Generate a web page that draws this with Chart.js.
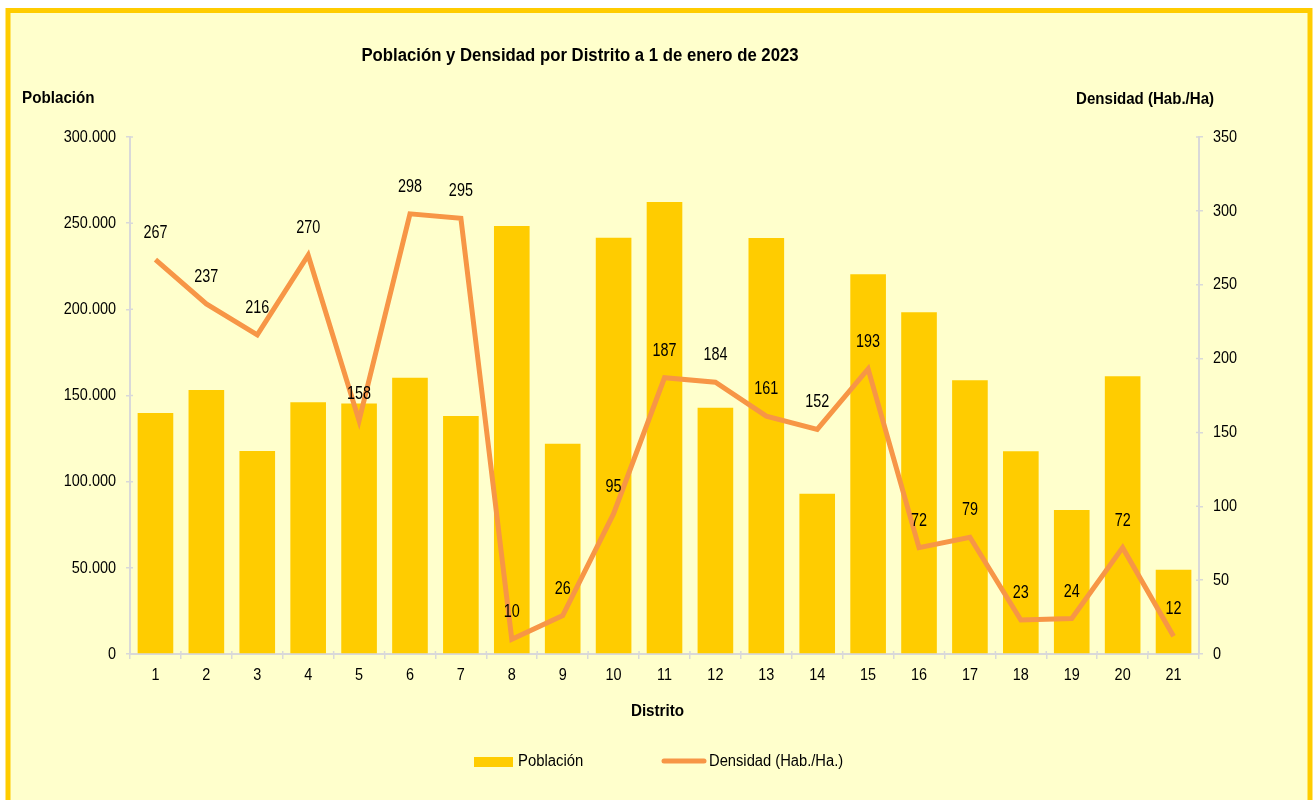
<!DOCTYPE html>
<html>
<head>
<meta charset="utf-8">
<script src="https://cdn.jsdelivr.net/npm/chart.js@4.4.1/dist/chart.umd.min.js"></script>
<style>
  html, body { margin: 0; padding: 0; background: #ffffff; }
  #wrap { width: 1316px; height: 800px; position: relative; }
</style>
</head>
<body>
<div id="wrap"><canvas id="c" width="1316" height="800"></canvas></div>
<script>
const distritos = ['1','2','3','4','5','6','7','8','9','10','11','12','13','14','15','16','17','18','19','20','21'];
const poblacion = [139800, 153200, 117800, 146100, 145300, 160300, 138100, 248400, 122000, 241500, 262300, 142900, 241400, 93000, 220300, 198300, 158900, 117700, 83600, 161200, 48900];
const densidad = [267, 237, 216, 270, 158, 298, 295, 10, 26, 95, 187, 184, 161, 152, 193, 72, 79, 23, 24, 72, 12];
const leftTicks = [0, 50000, 100000, 150000, 200000, 250000, 300000];
const rightTicks = [0, 50, 100, 150, 200, 250, 300, 350];

const FONT = '"Liberation Sans", Arial, sans-serif';
const BAR_COLOR = '#FFCC00';
const LINE_COLOR = '#F79646';
const AXIS_COLOR = '#D9D9D9';

function fmtThousands(v) {
  return String(Math.round(v)).replace(/\B(?=(\d{3})+(?!\d))/g, '.');
}

// draw horizontally condensed text (reference uses a narrow face)
function narrowText(ctx, text, x, y, align, font, sx) {
  ctx.save();
  ctx.font = font;
  ctx.textAlign = align;
  ctx.textBaseline = 'middle';
  ctx.translate(x, y);
  ctx.scale(sx, 1);
  ctx.fillText(text, 0, 0);
  ctx.restore();
}

const decorPlugin = {
  id: 'decor',
  beforeDraw(chart) {
    const ctx = chart.ctx;
    ctx.save();
    ctx.fillStyle = '#FFFFFF';
    ctx.fillRect(0, 0, chart.width, chart.height);
    ctx.fillStyle = '#FFFFCC';
    ctx.fillRect(8, 10, 1302, 800);
    ctx.strokeStyle = BAR_COLOR;
    ctx.lineWidth = 5;
    ctx.strokeRect(8, 10.5, 1302, 810);
    ctx.restore();
  },
  afterDraw(chart) {
    const ctx = chart.ctx;
    const area = chart.chartArea;
    const sx = chart.scales.x, sy = chart.scales.y, sy1 = chart.scales.y1;
    ctx.save();
    // inner half of the tick marks (reference ticks cross the axis)
    ctx.strokeStyle = AXIS_COLOR;
    ctx.lineWidth = 1.5;
    ctx.beginPath();
    sy.ticks.forEach((t, i) => { const p = sy.getPixelForTick(i); ctx.moveTo(area.left, p); ctx.lineTo(area.left + 3, p); });
    sy1.ticks.forEach((t, i) => { const p = sy1.getPixelForTick(i); ctx.moveTo(area.right, p); ctx.lineTo(area.right - 3, p); });
    sx.ticks.forEach((t, i) => {
      const p = sx.getPixelForTick(i) - (sx.getPixelForTick(1) - sx.getPixelForTick(0)) / 2;
      ctx.moveTo(p, area.bottom); ctx.lineTo(p, area.bottom - 3);
    });
    ctx.stroke();

    ctx.fillStyle = '#000000';
    const NUM = '17px ' + FONT;
    const NSX = 0.85;
    // Tick labels (positions from the chart's own scales)
    sx.ticks.forEach((t, i) => {
      narrowText(ctx, String(chart.data.labels[t.value]), sx.getPixelForTick(i), 675, 'center', NUM, NSX);
    });
    sy.ticks.forEach((t, i) => {
      narrowText(ctx, fmtThousands(t.value), area.left - 14, sy.getPixelForTick(i), 'right', NUM, NSX);
    });
    sy1.ticks.forEach((t, i) => {
      narrowText(ctx, String(t.value), area.right + 14, sy1.getPixelForTick(i), 'left', NUM, NSX);
    });
    // Title
    narrowText(ctx, 'Población y Densidad por Distrito a 1 de enero de 2023', 580, 56, 'center', 'bold 18px ' + FONT, 0.93);
    // Axis titles
    narrowText(ctx, 'Población', 22, 99, 'left', 'bold 16px ' + FONT, 0.95);
    narrowText(ctx, 'Densidad (Hab./Ha)', 1214, 100, 'right', 'bold 16px ' + FONT, 0.94);
    narrowText(ctx, 'Distrito', (area.left + area.right) / 2 - 7, 712, 'center', 'bold 16px ' + FONT, 0.95);
    // Legend
    ctx.fillStyle = chart.data.datasets[0].backgroundColor;
    ctx.fillRect(474, 757, 39, 10);
    ctx.fillStyle = '#000000';
    narrowText(ctx, chart.data.datasets[0].label, 518, 762, 'left', '16px ' + FONT, 0.93);
    ctx.strokeStyle = chart.data.datasets[1].borderColor;
    ctx.lineWidth = 5;
    ctx.lineCap = 'round';
    ctx.beginPath();
    ctx.moveTo(664, 761);
    ctx.lineTo(704, 761);
    ctx.stroke();
    narrowText(ctx, chart.data.datasets[1].label, 709, 762, 'left', '16px ' + FONT, 0.92);
    ctx.restore();
  },
  afterDatasetsDraw(chart) {
    const ctx = chart.ctx;
    const meta = chart.getDatasetMeta(1);
    const data = chart.data.datasets[1].data;
    ctx.save();
    ctx.fillStyle = '#000000';
    meta.data.forEach((pt, i) => {
      narrowText(ctx, String(data[i]), pt.x, pt.y - 27, 'center', '18px ' + FONT, 0.8);
    });
    ctx.restore();
  }
};

new Chart(document.getElementById('c'), {
  data: {
    labels: distritos,
    datasets: [
      {
        type: 'bar',
        label: 'Población',
        data: poblacion,
        backgroundColor: BAR_COLOR,
        borderWidth: 0,
        yAxisID: 'y',
        categoryPercentage: 1.0,
        barPercentage: 0.7,
        order: 2
      },
      {
        type: 'line',
        label: 'Densidad (Hab./Ha.)',
        data: densidad,
        borderColor: LINE_COLOR,
        backgroundColor: LINE_COLOR,
        borderWidth: 5,
        pointRadius: 0,
        pointHoverRadius: 0,
        tension: 0,
        yAxisID: 'y1',
        order: 1
      }
    ]
  },
  options: {
    responsive: false,
    animation: false,
    events: [],
    layout: { padding: { top: 137, left: 0, right: 0, bottom: 0 } },
    plugins: {
      legend: { display: false },
      title: { display: false },
      tooltip: { enabled: false }
    },
    scales: {
      x: {
        offset: true,
        grid: { display: true, drawOnChartArea: false, offset: true, color: AXIS_COLOR, tickLength: 5, lineWidth: 1.5 },
        border: { display: true, color: AXIS_COLOR, width: 2 },
        ticks: { display: false },
        afterFit(scale) { scale.height = 800 - 654; }
      },
      y: {
        position: 'left',
        min: 0,
        max: 300000,
        afterBuildTicks(scale) { scale.ticks = leftTicks.map(v => ({ value: v })); },
        grid: { display: true, drawOnChartArea: false, color: AXIS_COLOR, tickLength: 4, lineWidth: 1.5 },
        border: { display: true, color: AXIS_COLOR, width: 2 },
        ticks: { display: false },
        afterFit(scale) { scale.width = 130; }
      },
      y1: {
        position: 'right',
        min: 0,
        max: 350,
        afterBuildTicks(scale) { scale.ticks = rightTicks.map(v => ({ value: v })); },
        grid: { display: true, drawOnChartArea: false, color: AXIS_COLOR, tickLength: 4, lineWidth: 1.5 },
        border: { display: true, color: AXIS_COLOR, width: 2 },
        ticks: { display: false },
        afterFit(scale) { scale.width = 1316 - 1199; }
      }
    }
  },
  plugins: [decorPlugin]
});
</script>
</body>
</html>
